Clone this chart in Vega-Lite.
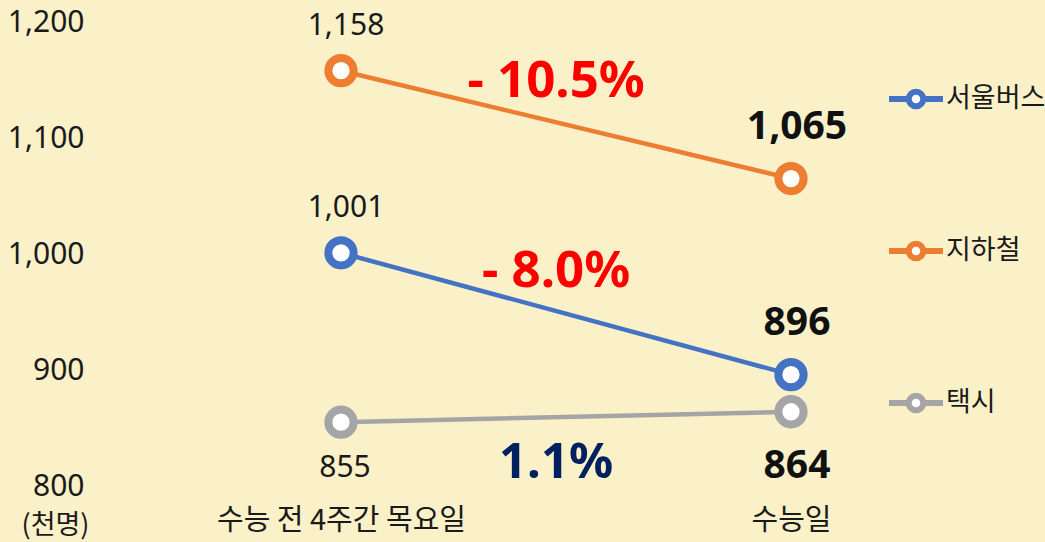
{
  "$schema": "https://vega.github.io/schema/vega-lite/v6.json",
  "width": 900,
  "height": 464,
  "autosize": "none",
  "padding": {"left": 116, "top": 22, "right": 29, "bottom": 56},
  "background": "#FAF1C8",
  "config": {
    "view": {"stroke": null},
    "font": "Noto Sans CJK KR",
    "text": {"font": "Noto Sans CJK KR"}
  },
  "datasets": {
    "main": [
      {"t": 0, "mode": "서울버스", "value": 1001, "label": "1,001", "pos": "above"},
      {"t": 1, "mode": "서울버스", "value": 896, "label": "896", "pos": "above"},
      {"t": 0, "mode": "지하철", "value": 1158, "label": "1,158", "pos": "above"},
      {"t": 1, "mode": "지하철", "value": 1065, "label": "1,065", "pos": "above"},
      {"t": 0, "mode": "택시", "value": 855, "label": "855", "pos": "below"},
      {"t": 1, "mode": "택시", "value": 864, "label": "864", "pos": "below"}
    ],
    "changes": [
      {"t": 0.478, "value": 1148, "label": "- 10.5%", "kind": "down"},
      {"t": 0.478, "value": 984.5, "label": "- 8.0%", "kind": "down"},
      {"t": 0.478, "value": 820, "label": "1.1%", "kind": "up"}
    ]
  },
  "encoding": {
    "x": {
      "field": "t", "type": "quantitative",
      "scale": {"domain": [-0.5, 1.5], "nice": false, "zero": false},
      "axis": {
        "values": [0, 1], "title": null, "grid": false, "domain": false, "ticks": false,
        "labelExpr": "datum.value == 0 ? '수능 전 4주간 목요일' : '수능일'",
        "labelFontSize": 29, "labelColor": "#1a1a1a", "labelPadding": 20, "labelLimit": 0,
        "labelFont": "Noto Sans CJK KR"
      }
    },
    "y": {
      "field": "value", "type": "quantitative",
      "scale": {"domain": [800, 1200], "nice": false, "zero": false},
      "axis": {
        "values": [800, 900, 1000, 1100, 1200], "format": ",.0f", "grid": false, "domain": false, "ticks": false,
        "labelFontSize": 30, "labelColor": "#1a1a1a", "labelPadding": 32, "labelFont": "Noto Sans",
        "title": "(천명)", "titleAngle": 0, "titleFontSize": 27, "titleFontWeight": "normal",
        "titleColor": "#1a1a1a", "titleFont": "Noto Sans CJK KR",
        "titleX": -61, "titleY": 503, "titleAlign": "center", "titleBaseline": "middle"
      }
    },
    "color": {
      "field": "mode", "type": "nominal",
      "scale": {"domain": ["서울버스", "지하철", "택시"], "range": ["#4472C4", "#ED7D31", "#A5A5A5"]},
      "legend": {
        "title": null, "orient": "none", "legendX": 770, "legendY": 47,
        "symbolType": "M-1,0H-0.27M0.27,0H1M-0.27,0A0.27,0.27,0,1,0,0.27,0A0.27,0.27,0,1,0,-0.27,0Z",
        "symbolSize": 2916, "symbolStrokeWidth": 6, "symbolFillColor": "#FFFFFF",
        "labelFontSize": 27, "labelColor": "#1a1a1a", "labelFont": "Noto Sans CJK KR",
        "labelOffset": 0, "rowPadding": 102
      }
    }
  },
  "layer": [
    {
      "data": {"name": "main"},
      "mark": {"type": "line", "strokeWidth": 4.5}
    },
    {
      "data": {"name": "main"},
      "mark": {"type": "point", "filled": false, "fill": "#FFFFFF", "fillOpacity": 1, "strokeWidth": 8, "size": 640, "opacity": 1}
    },
    {
      "data": {"name": "main"},
      "transform": [{"filter": "datum.t == 0 && datum.pos == 'above'"}],
      "mark": {"type": "text", "font": "Noto Sans", "fontSize": 30, "dx": 5, "dy": -45},
      "encoding": {"text": {"field": "label"}, "color": {"value": "#1a1a1a"}}
    },
    {
      "data": {"name": "main"},
      "transform": [{"filter": "datum.t == 0 && datum.pos == 'below'"}],
      "mark": {"type": "text", "font": "Noto Sans", "fontSize": 30, "dx": 4, "dy": 46},
      "encoding": {"text": {"field": "label"}, "color": {"value": "#1a1a1a"}}
    },
    {
      "data": {"name": "main"},
      "transform": [{"filter": "datum.t == 1 && datum.pos == 'above'"}],
      "mark": {"type": "text", "font": "Noto Sans", "fontSize": 39, "fontWeight": "bold", "dx": 6, "dy": -52},
      "encoding": {"text": {"field": "label"}, "color": {"value": "#111111"}}
    },
    {
      "data": {"name": "main"},
      "transform": [{"filter": "datum.t == 1 && datum.pos == 'below'"}],
      "mark": {"type": "text", "font": "Noto Sans", "fontSize": 39, "fontWeight": "bold", "dx": 6, "dy": 54},
      "encoding": {"text": {"field": "label"}, "color": {"value": "#111111"}}
    },
    {
      "data": {"name": "changes"},
      "transform": [{"filter": "datum.kind == 'down'"}],
      "mark": {"type": "text", "font": "Noto Sans", "fontSize": 51, "fontWeight": "bold"},
      "encoding": {"text": {"field": "label"}, "color": {"value": "#FF0000"}}
    },
    {
      "data": {"name": "changes"},
      "transform": [{"filter": "datum.kind == 'up'"}],
      "mark": {"type": "text", "font": "Noto Sans", "fontSize": 49, "fontWeight": "bold"},
      "encoding": {"text": {"field": "label"}, "color": {"value": "#002060"}}
    }
  ]
}
